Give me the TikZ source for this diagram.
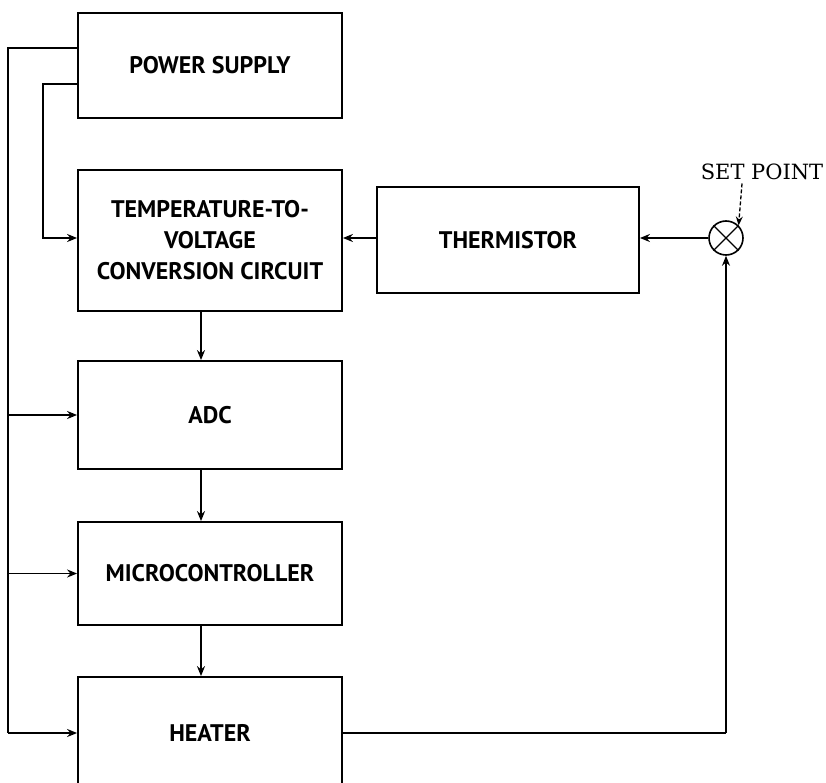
\documentclass[tikz,border=0pt]{standalone}
\usepackage{fontspec}
\setmainfont{PT Sans}
\newfontfamily\serifsp{DejaVu Serif}
\usetikzlibrary{arrows.meta,calc}
\begin{document}
\begin{tikzpicture}[x=1pt,y=-1pt,
  blk/.style={draw,line width=1.8pt,rectangle,minimum width=264pt,inner sep=0pt,align=center,font=\bfseries\fontsize{24}{31}\selectfont},
  conn/.style={line width=1.6pt,-{Stealth[length=10pt,width=8pt]}},
  wire/.style={line width=1.6pt}]
\useasboundingbox (0,0) rectangle (826,783);
\clip (0,0) rectangle (826,783);
\node[blk,minimum height=105pt] (ps) at (210,65.5) {POWER SUPPLY};
\node[blk,minimum height=141pt] (tvc) at (210,240.5) {TEMPERATURE-TO-\\VOLTAGE\\CONVERSION CIRCUIT};
\node[blk,minimum height=108pt] (adc) at (210,415) {ADC};
\node[blk,minimum height=103pt] (mcu) at (210,573.5) {MICROCONTROLLER};
\node[blk,minimum height=112pt] (heat) at (210,733) {HEATER};
\node[blk,minimum width=262pt,minimum height=106pt] (th) at (508,240) {THERMISTOR};
\node[draw,circle,line width=1.6pt,minimum size=34pt,inner sep=0pt] (sp) at (726,238) {};
\draw[line width=1.3pt] (sp.north west) -- (sp.south east) (sp.north east) -- (sp.south west);
\node[font=\serifsp\fontsize{21}{24}\selectfont] (spl) at (762,172) {SET POINT};
% power lines
\coordinate (a1) at (8,48);
\coordinate (a2) at (8,733);
\coordinate (b1) at (43,84);
\coordinate (b2) at (43,238);
\draw[wire] (ps.west |- a1) -- (a1) -- (a2);
\draw[conn] (a2) -- (heat.west |- a2);
\draw[conn] (a1 |- adc.west) -- (adc.west);
\draw[conn] (a1 |- mcu.west) -- (mcu.west);
\draw[conn] (ps.west |- b1) -- (b1) -- (b2) -- (tvc.west |- b2);
% signal chain
\draw[conn] ([xshift=-9pt]tvc.south) -- ([xshift=-9pt]adc.north);
\draw[conn] ([xshift=-9pt]adc.south) -- ([xshift=-9pt]mcu.north);
\draw[conn] ([xshift=-9pt]mcu.south) -- ([xshift=-9pt]heat.north);
\draw[conn] (th.west |- sp.west) -- (tvc.east |- sp.west);
\draw[conn] (sp.west) -- (th.east |- sp.west);
\coordinate (c1) at (726,733);
\draw[wire] (heat.east |- c1) -- (c1);
\draw[conn] (c1) -- (sp.south);
\draw[line width=1.3pt,dash pattern=on 4pt off 2pt,-{Stealth[length=9pt,width=7pt]}] ($(spl.south)+(-20,0)$) -- (sp.north east);
\end{tikzpicture}
\end{document}
